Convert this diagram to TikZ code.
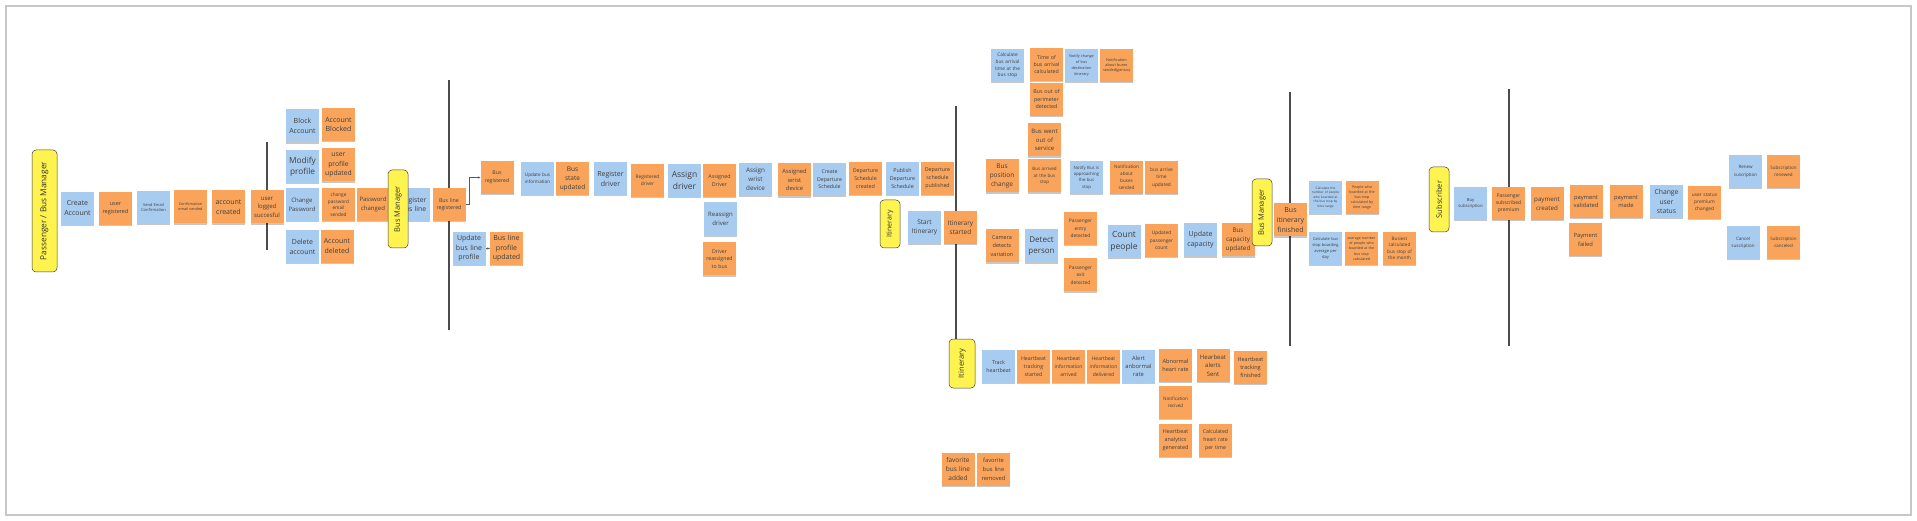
\documentclass[tikz,border=0pt]{standalone}
\usepackage{fontspec}
\setmainfont{Open Sans}
\usetikzlibrary{shadows,arrows.meta}
\definecolor{stblue}{HTML}{A8CBF0}
\definecolor{storange}{HTML}{F9A45A}
\definecolor{styellow}{HTML}{FFF34F}
\definecolor{sttext}{HTML}{3F3F3F}
\newcommand\stfz[2]{\fontsize{#1}{#2}\selectfont}
\begin{document}
\begin{tikzpicture}[x=1pt,y=-1pt,
 sticky/.style={minimum width=33pt, minimum height=33pt, text width=31pt, inner sep=1pt, align=center, text=sttext,
   drop shadow={shadow xshift=0pt, shadow yshift=-1.4pt, opacity=0.22, fill=black}},
 bst/.style={sticky, fill=stblue},
 ost/.style={sticky, fill=storange},
 actor/.style={fill=styellow, draw=black!75, line width=0.5pt, rounded corners=4pt, rotate=90, inner sep=0pt, text=black!80, align=center},
 lane/.style={draw=black!70, line width=1.1pt},
 conn/.style={draw=black!65, line width=0.5pt, -{Stealth[length=2.6pt,width=2.4pt]}}]
\useasboundingbox (0,0) rectangle (1917,521);
\draw[draw=black!22, line width=1.2pt] (6,6) rectangle (1911,515);

% swim-lane separators
\draw[lane] (267,142) -- (267,250);
\draw[lane] (449,80) -- (449,330);
\draw[lane] (956,106) -- (956,340);
\draw[lane] (1290,92) -- (1290,346);
\draw[lane] (1509,89) -- (1509,346);

% Passenger / Bus Manager
\node[actor, minimum width=122pt, minimum height=25pt, font=\stfz{8.3}{10}] (a1) at (44.5,211) {Passenger / Bus Manager};
\node[bst, font=\stfz{7}{10}] (ca) at (77.5,208.5) {Create\\Account};
\node[ost, font=\stfz{5.5}{7.7}] (ur) at (115.5,208.5) {user\\registered};
\node[bst, font=\stfz{4}{5.7}] (sec) at (153.5,207.5) {Send Email\\Confirmation};
\node[ost, font=\stfz{3.8}{5}] (ces) at (190.5,207) {Confirmation\\email sended};
\node[ost, font=\stfz{7}{10}] (ac) at (228.5,207) {account\\created};
\node[ost, font=\stfz{6}{8.5}] (uls) at (267,207) {user\\logged\\succesful};

\node[bst, font=\stfz{7}{10}] (ba) at (302.5,126) {Block\\Account};
\node[ost, font=\stfz{7}{9.3}] (abl) at (338.5,124.5) {Account\\Blocked};
\node[bst, font=\stfz{8.3}{11}] (mp) at (302.5,166.5) {Modify\\profile};
\node[ost, font=\stfz{6.8}{9.2}] (upu) at (338.5,165) {user\\profile\\updated};
\node[bst, font=\stfz{6}{8.7}] (cp) at (302,204.5) {Change\\Password};
\node[ost, font=\stfz{4.7}{6.5}] (cpes) at (338.5,204.5) {change\\password\\email\\sended};
\node[ost, font=\stfz{6}{9}] (pc) at (373,204.5) {Password\\changed};
\node[bst, font=\stfz{7}{10}] (dac) at (302.5,246.5) {Delete\\account};
\node[ost, font=\stfz{7}{10}] (ad) at (337,246.5) {Account\\deleted};

% Bus Manager
\node[bst, font=\stfz{6.8}{9.3}] (rbl) at (413.5,204.5) {Register\\bus line};
\node[actor, minimum width=78pt, minimum height=20pt, font=\stfz{7.5}{9}] (a2) at (398,209) {Bus Manager};
\node[ost, font=\stfz{5.3}{7.7}] (blr) at (449,204.5) {Bus line\\registered};
\node[ost, font=\stfz{5.2}{7.7}] (br) at (497,177.5) {Bus\\registered};
\node[bst, font=\stfz{7}{9.5}] (ubl) at (469,248.5) {Update\\bus line\\profile};
\node[ost, font=\stfz{7}{9.5}] (blpu) at (506.5,248.5) {Bus line\\profile\\updated};
\draw[conn] (blr.east) -- ++(4,0) |- (br.west);
\draw[conn] (ubl.east) -- (blpu.west);

\node[bst, font=\stfz{4.6}{7.3}] (ubi) at (537.5,178.5) {Update bus\\information};
\node[ost, font=\stfz{6.5}{9}] (bsu) at (572.5,178.5) {Bus\\state\\updated};
\node[bst, font=\stfz{7}{10}] (rd) at (610.5,178.5) {Register\\driver};
\node[ost, font=\stfz{4.8}{6.7}] (rgd) at (647.5,180.5) {Registered\\driver};
\node[bst, font=\stfz{8.5}{11.7}] (asd) at (684.5,180.5) {Assign\\driver};
\node[ost, font=\stfz{5.3}{7.7}] (asdd) at (719.5,180.5) {Assigned\\Driver};
\node[bst, font=\stfz{6.3}{8.8}] (awd) at (755.5,179.5) {Assign\\wrist\\device};
\node[bst, font=\stfz{6}{8.7}] (rad) at (720.5,219) {Reassign\\driver};
\node[ost, font=\stfz{5.2}{7.5}] (drb) at (719.5,259) {Driver\\reassigned\\to bus};
\node[ost, font=\stfz{5.8}{8.5}] (awdd) at (794.5,180) {Assigned\\wrist\\device};
\node[bst, font=\stfz{5.2}{7.5}] (cds) at (829.5,179.5) {Create\\Departure\\Schedule};
\node[ost, font=\stfz{5.3}{7.8}] (dsc) at (865.5,178.5) {Departure\\Schedule\\created};
\node[bst, font=\stfz{5.3}{7.8}] (pds) at (902.5,178.5) {Publish\\Departure\\Schedule};
\node[ost, font=\stfz{5.3}{7.8}] (dsp) at (937.5,178.5) {Departure\\schedule\\published};

% Itinerary
\node[actor, minimum width=48pt, minimum height=20pt, font=\stfz{7}{9}] (a3) at (890,224) {Itinerary};
\node[bst, font=\stfz{6.5}{8.7}] (si) at (924.5,227.5) {Start\\Itinerary};
\node[ost, font=\stfz{6.5}{8.7}] (ist) at (960.5,227.5) {Itinerary\\started};

\node[bst, font=\stfz{4.8}{6.8}] (cba) at (1007.5,65.5) {Calculate\\bus arrival\\time at the\\bus stop};
\node[ost, font=\stfz{5.2}{7.3}] (tbac) at (1046.5,64.5) {Time of\\bus arrival\\calculated};
\node[bst, font=\stfz{3.8}{5.7}] (ncbd) at (1081.5,65.5) {Notify change\\of bus\\destination\\itinerary};
\node[ost, font=\stfz{3.8}{5.3}] (nbsg) at (1116.5,65.5) {Notification\\about buses\\sended(genius)};
\node[ost, font=\stfz{5.3}{7.5}] (bopd) at (1046.5,99.5) {Bus out of\\perimeter\\detected};
\node[ost, font=\stfz{6}{8.5}] (bwos) at (1044.5,140) {Bus went\\out of\\service};
\node[ost, font=\stfz{6.5}{8.8}] (bpc) at (1002,176) {Bus\\position\\change};
\node[ost, font=\stfz{4.5}{6.8}] (babs) at (1044.5,176) {Bus arrived\\at the bus\\stop};
\node[bst, font=\stfz{4.3}{6.3}] (nba) at (1086.5,177.5) {Notify Bus is\\approaching\\the bus\\stop};
\node[ost, font=\stfz{4.6}{7}] (nbs) at (1126.5,177.5) {Notification\\about\\buses\\sended};
\node[ost, font=\stfz{4.8}{7.5}] (batu) at (1161.5,177.5) {bus arrive\\time\\updated};
\node[ost, font=\stfz{5.5}{8.5}] (cdv) at (1002,246) {Camera\\detects\\variation};
\node[bst, font=\stfz{8}{11}] (dp) at (1041.5,246) {Detect\\person};
\node[ost, font=\stfz{4.8}{7.5}] (ped) at (1080.5,228.5) {Passenger\\entry\\detected};
\node[ost, font=\stfz{4.8}{7.5}] (pxd) at (1080.5,275) {Passenger\\exit\\detected};
\node[bst, font=\stfz{8.5}{11.3}] (cpp) at (1124,241.5) {Count\\people};
\node[ost, font=\stfz{4.8}{7.7}] (upc) at (1161.5,240.5) {Updated\\passenger\\count};
\node[bst, font=\stfz{7}{10}] (uc) at (1200.5,240) {Update\\capacity};
\node[ost, font=\stfz{6.3}{9}] (bcu) at (1238,240) {Bus\\capacity\\updated};

% Bus Manager (2)
\node[actor, minimum width=67pt, minimum height=20pt, font=\stfz{7.5}{9}] (a4) at (1262,212.5) {Bus Manager};
\node[ost, font=\stfz{7}{9.7}] (bif) at (1290.5,220) {Bus\\itinerary\\finished};
\node[bst, font=\stfz{3.2}{4.5}] (cnp) at (1325.5,197.5) {Calculate the\\number of people\\who boarded at\\the bus stop by\\time range};
\node[ost, font=\stfz{3.6}{5.2}] (pwb) at (1362,197.5) {People who\\boarded at the\\bus stop\\calculated by\\time range};
\node[bst, font=\stfz{4}{5.8}] (cbsb) at (1325.5,248.5) {Calculate bus\\stop boarding\\average per\\day};
\node[ost, font=\stfz{3.6}{5.2}] (anp) at (1361.5,248.5) {average number\\of people who\\boarded at the\\bus stop\\calculated};
\node[ost, font=\stfz{4.6}{6.4}] (bcbs) at (1399.5,248.5) {Busiest\\calculated\\bus stop of\\the month};

% Subscriber
\node[actor, minimum width=65pt, minimum height=20pt, font=\stfz{7.5}{9}] (a5) at (1439,199.5) {Subscriber};
\node[bst, font=\stfz{4.2}{6}] (bs) at (1470.5,203.5) {Buy\\subscription};
\node[ost, font=\stfz{5}{7.3}] (psp) at (1508.5,203.5) {Passenger\\subscribed\\premium};
\node[ost, font=\stfz{6.2}{9}] (pcr) at (1547,203.5) {payment\\created};
\node[ost, font=\stfz{5.8}{8}] (pv) at (1586,201.5) {payment\\validated};
\node[ost, font=\stfz{5.8}{9}] (pf) at (1585.5,239.5) {Payment\\failed};
\node[ost, font=\stfz{5.8}{8}] (pm) at (1626,201.5) {payment\\made};
\node[bst, font=\stfz{6.8}{9.2}] (cus) at (1666.5,201.5) {Change\\user\\status};
\node[ost, font=\stfz{4.8}{7.2}] (uspc) at (1704.5,202.5) {user status\\premium\\changed};
\node[bst, font=\stfz{4.5}{7.3}] (rs) at (1745.5,171.5) {Renew\\suscription};
\node[ost, font=\stfz{4.5}{7.3}] (sr) at (1783.5,171.5) {Subscription\\renewed};
\node[bst, font=\stfz{4.5}{7}] (cs) at (1743,242.5) {Cancel\\suscription};
\node[ost, font=\stfz{4.5}{7}] (sc) at (1783.5,242.5) {Subscription\\canceled};

% Itinerary (heartbeat)
\node[actor, minimum width=49pt, minimum height=26pt, font=\stfz{7.5}{9}] (a6) at (962,363.5) {Itinerary};
\node[bst, font=\stfz{5.3}{7.7}] (th) at (998.5,366.5) {Track\\heartbeat};
\node[ost, font=\stfz{5.3}{8}] (hts) at (1033.5,366.5) {Heartbeat\\tracking\\started};
\node[ost, font=\stfz{5}{7.7}] (hia) at (1068.5,366.5) {Heartbeat\\information\\arrived};
\node[ost, font=\stfz{5}{7.7}] (hid) at (1103.5,366.5) {Heartbeat\\information\\delivered};
\node[bst, font=\stfz{5.8}{8}] (aar) at (1138.5,366.5) {Alert\\anbormal\\rate};
\node[ost, font=\stfz{5.6}{8}] (ahr) at (1175.5,365.5) {Abnormal\\heart rate};
\node[ost, font=\stfz{6}{8.5}] (has) at (1213,365.5) {Hearbeat\\alerts\\Sent};
\node[ost, font=\stfz{5.5}{7.7}] (htf) at (1250.5,367.5) {Heartbeat\\tracking\\finished};
\node[ost, font=\stfz{4.6}{6.7}] (nr) at (1175.5,402.5) {Notification\\recived};
\node[ost, font=\stfz{5.4}{7.8}] (hag) at (1175.5,440) {Heartbeat\\analytics\\generated};
\node[ost, font=\stfz{5.2}{7.8}] (chr) at (1215.5,440) {Calculated\\heart rate\\per time};
\node[ost, font=\stfz{6.5}{9}] (fba) at (958,469.5) {favorite\\bus line\\added};
\node[ost, font=\stfz{5.8}{8.8}] (fbr) at (993.5,469.5) {favorite\\bus line\\removed};
\end{tikzpicture}
\end{document}
